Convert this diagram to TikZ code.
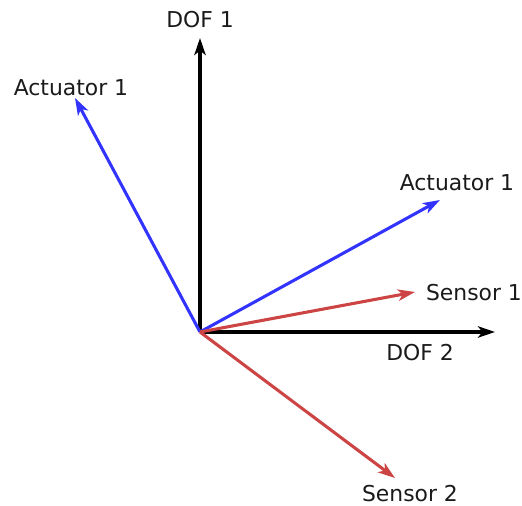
\documentclass[tikz,border=0pt]{standalone}
\usepackage{fontspec}
\setmainfont{DejaVu Sans}
\usetikzlibrary{arrows.meta}
\definecolor{ink}{HTML}{000000}
\definecolor{actblue}{HTML}{3333FF}
\definecolor{senred}{HTML}{CC4444}
\definecolor{labelgray}{HTML}{1A1A1A}
\tikzset{
  axisarr/.style={-{Stealth[length=4.5mm,width=3mm,inset=1.2mm]},line width=2.5pt,color=ink},
  actarr/.style={-{Stealth[length=4.5mm,width=3mm,inset=1.2mm]},line width=2.3pt,color=actblue},
  senarr/.style={-{Stealth[length=4.5mm,width=3mm,inset=1.2mm]},line width=2.3pt,color=senred},
  vlabel/.style={text=labelgray,inner sep=0pt,font=\fontsize{16.4}{19}\selectfont}
}
\begin{document}
\begin{tikzpicture}[x=0.75pt,y=0.75pt]
  \useasboundingbox (0,0) rectangle (522,506);
  \coordinate (o) at (200,174);
  \coordinate (dof1) at (200,468);
  \coordinate (dof2) at (495,174);
  \coordinate (actl) at (75,408);
  \coordinate (actr) at (440,306);
  \coordinate (sen1) at (415,214);
  \coordinate (sen2) at (395,28);

  \draw[axisarr] (o) -- (dof1);
  \draw[axisarr] (o) -- (dof2);
  \draw[actarr] (o) -- (actl);
  \draw[actarr] (o) -- (actr);
  \draw[senarr] (o) -- (sen1);
  \draw[senarr] (o) -- (sen2);

  \node[vlabel] (ldof1) at (200,486) {DOF 1};
  \node[vlabel] (ldof2) at (420,153) {DOF 2};
  \node[vlabel] (lactl) at (71,418) {Actuator 1};
  \node[vlabel] (lactr) at (457,323) {Actuator 1};
  \node[vlabel] (lsen1) at (474,213) {Sensor 1};
  \node[vlabel] (lsen2) at (410,12) {Sensor 2};
\end{tikzpicture}
\end{document}
